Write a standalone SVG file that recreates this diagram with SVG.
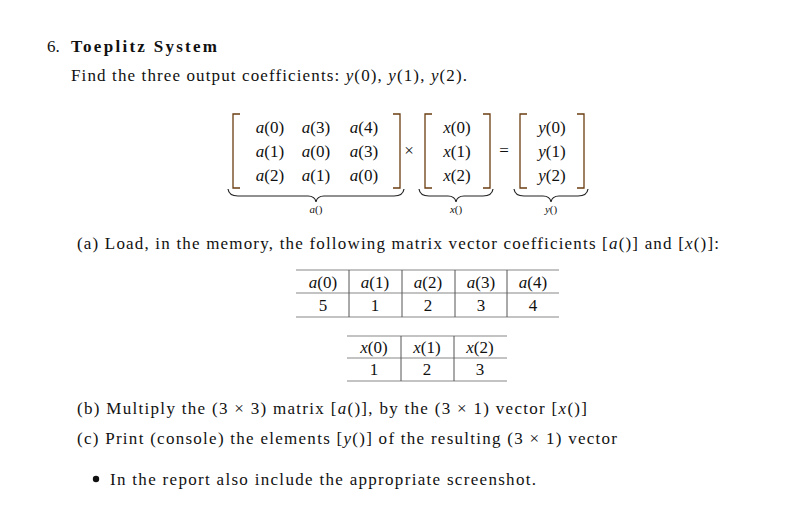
<svg xmlns="http://www.w3.org/2000/svg" width="806" height="510" viewBox="0 0 806 510">
<style>
text{font-family:"Liberation Serif","DejaVu Serif",serif;font-size:17px;fill:#111}
.m{font-style:italic}
.c{text-anchor:middle}
.s{font-size:11px}
.br{fill:none;stroke:#6b3d12;stroke-width:1.3}
.bc{fill:none;stroke:#222;stroke-width:1.2}
.tl{stroke:#888;stroke-width:1.2}
.tv{stroke:#555;stroke-width:1}
</style>
<rect width="806" height="510" fill="#fff"/>
<g id="heading">
<text x="47" y="52">6.</text>
<text x="71" y="52" font-weight="bold" textLength="146">Toeplitz System</text>
<text x="71" y="81" textLength="396">Find the three output coefficients: <tspan class="m">y</tspan>(0), <tspan class="m">y</tspan>(1), <tspan class="m">y</tspan>(2).</text>
</g>
<g id="matrix-a">
<path class="br" d="M240,114 H233 V188 H240 M393,114 H400 V188 H393"/>
<text class="c" x="270" y="133"><tspan class="m">a</tspan>(0)</text>
<text class="c" x="316" y="133"><tspan class="m">a</tspan>(3)</text>
<text class="c" x="364" y="133"><tspan class="m">a</tspan>(4)</text>
<text class="c" x="270" y="157"><tspan class="m">a</tspan>(1)</text>
<text class="c" x="316" y="157"><tspan class="m">a</tspan>(0)</text>
<text class="c" x="364" y="157"><tspan class="m">a</tspan>(3)</text>
<text class="c" x="270" y="181"><tspan class="m">a</tspan>(2)</text>
<text class="c" x="316" y="181"><tspan class="m">a</tspan>(1)</text>
<text class="c" x="364" y="181"><tspan class="m">a</tspan>(0)</text>
<path class="bc" d="M228,189 Q229,196 238,196 H308 Q315,196 316,202 Q317,196 324,196 H394 Q403,196 404,189"/>
<text class="c s m" x="316" y="213">a<tspan font-style="normal">()</tspan></text>
</g>
<text class="c" x="409" y="156" fill="#555">×</text>
<g id="vector-x">
<path class="br" d="M432,114 H425 V188 H432 M483,114 H490 V188 H483"/>
<text class="c" x="457" y="133"><tspan class="m">x</tspan>(0)</text>
<text class="c" x="457" y="157"><tspan class="m">x</tspan>(1)</text>
<text class="c" x="457" y="181"><tspan class="m">x</tspan>(2)</text>
<path class="bc" d="M419,189 Q420,196 429,196 H448 Q455,196 456,202 Q457,196 464,196 H483 Q492,196 493,189"/>
<text class="c s m" x="456" y="213">x<tspan font-style="normal">()</tspan></text>
</g>
<text class="c" x="504" y="156">=</text>
<g id="vector-y">
<path class="br" d="M527,114 H520 V188 H527 M577,114 H584 V188 H577"/>
<text class="c" x="552" y="133"><tspan class="m">y</tspan>(0)</text>
<text class="c" x="552" y="157"><tspan class="m">y</tspan>(1)</text>
<text class="c" x="552" y="181"><tspan class="m">y</tspan>(2)</text>
<path class="bc" d="M514,189 Q515,196 524,196 H543 Q550,196 551,202 Q552,196 559,196 H578 Q587,196 588,189"/>
<text class="c s m" x="551" y="213">y<tspan font-style="normal">()</tspan></text>
</g>
<g id="part-a">
<text x="77" y="249" textLength="642">(a) Load, in the memory, the following matrix  vector coefficients [<tspan class="m">a</tspan>()] and [<tspan class="m">x</tspan>()]:</text>
</g>
<g id="table-a">
<line class="tl" x1="296" y1="270" x2="559" y2="270"/>
<line class="tl" x1="296" y1="293" x2="559" y2="293"/>
<line class="tl" x1="296" y1="317" x2="559" y2="317"/>
<path class="tv" d="M349,270V317M402,270V317M455,270V317M507,270V317"/>
<text class="c" x="323" y="288"><tspan class="m">a</tspan>(0)</text>
<text class="c" x="375" y="288"><tspan class="m">a</tspan>(1)</text>
<text class="c" x="428" y="288"><tspan class="m">a</tspan>(2)</text>
<text class="c" x="481" y="288"><tspan class="m">a</tspan>(3)</text>
<text class="c" x="533" y="288"><tspan class="m">a</tspan>(4)</text>
<text class="c" x="323" y="311">5</text>
<text class="c" x="375" y="311">1</text>
<text class="c" x="428" y="311">2</text>
<text class="c" x="481" y="311">3</text>
<text class="c" x="533" y="311">4</text>
</g>
<g id="table-x">
<line class="tl" x1="347" y1="336" x2="507" y2="336"/>
<line class="tl" x1="347" y1="358" x2="507" y2="358"/>
<line class="tl" x1="347" y1="381" x2="507" y2="381"/>
<path class="tv" d="M401,336V381M454,336V381"/>
<text class="c" x="374" y="353"><tspan class="m">x</tspan>(0)</text>
<text class="c" x="427" y="353"><tspan class="m">x</tspan>(1)</text>
<text class="c" x="480" y="353"><tspan class="m">x</tspan>(2)</text>
<text class="c" x="374" y="375">1</text>
<text class="c" x="427" y="375">2</text>
<text class="c" x="480" y="375">3</text>
</g>
<g id="part-b">
<text x="77" y="414" textLength="510">(b) Multiply the (3 × 3) matrix [<tspan class="m">a</tspan>()], by the (3 × 1) vector [<tspan class="m">x</tspan>()]</text>
</g>
<g id="part-c">
<text x="77" y="444" textLength="540">(c) Print (console) the elements [<tspan class="m">y</tspan>()] of the resulting (3 × 1) vector</text>
</g>
<g id="bullet">
<circle cx="96" cy="479" r="3.2" fill="#111"/>
<text x="110" y="485" textLength="426">In the report also include the appropriate screenshot.</text>
</g>
</svg>
